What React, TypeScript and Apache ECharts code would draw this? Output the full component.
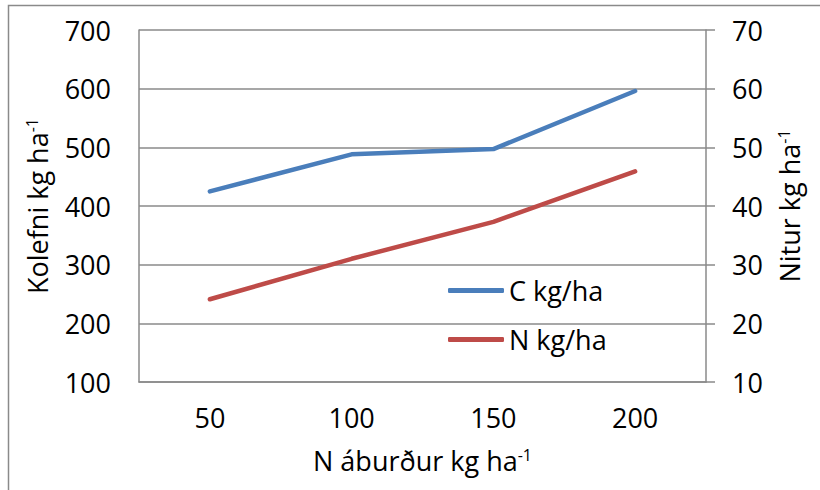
import React, { useEffect, useRef } from "react";
import * as echarts from "echarts";

const categories = ["50", "100", "150", "200"];
const carbon = [425, 488, 497, 596];
const nitrogen = [24.1, 31.0, 37.3, 45.9];
const leftTicks = { min: 100, max: 700, interval: 100 };
const rightTicks = { min: 10, max: 70, interval: 10 };

const FONT = "Open Sans";
const GRAY = "#8a8a8a";
const FS = 27;

export default function App() {
  const ref = useRef<HTMLDivElement>(null);
  useEffect(() => {
    document.body.style.margin = "0";
    const chart = echarts.init(ref.current!, null, { renderer: "svg" });
    const rich = {
      n: { fontSize: FS, fontFamily: FONT, color: "#000" },
      s: { fontSize: 16, fontFamily: FONT, color: "#000", verticalAlign: "top" as const },
    };
    chart.setOption({
      animation: false,
      textStyle: { fontFamily: FONT },
      graphic: [
        {
          type: "rect",
          shape: { x: 8.5, y: 5.5, width: 900, height: 600 },
          style: { fill: "none", stroke: GRAY, lineWidth: 1.5 },
          silent: true,
        },
      ],
      grid: { left: 139, top: 30, right: 114, bottom: 108, containLabel: false },
      legend: {
        orient: "vertical",
        left: 443,
        top: 272,
        icon: "roundRect",
        itemWidth: 56,
        itemHeight: 5,
        itemGap: 22,
        textStyle: { fontSize: FS, fontFamily: FONT, color: "#000" },
        data: ["C kg/ha", "N kg/ha"],
      },
      xAxis: {
        type: "category",
        data: categories,
        boundaryGap: true,
        axisLine: { show: true, lineStyle: { color: GRAY, width: 1.5 } },
        axisTick: { show: false },
        axisLabel: { fontSize: FS, fontFamily: FONT, color: "#000", margin: 22 },
        name: "{n|N áburður kg ha}{s|-1}",
        nameLocation: "middle",
        nameGap: 65,
        nameTextStyle: { rich },
      },
      yAxis: [
        {
          type: "value",
          min: leftTicks.min,
          max: leftTicks.max,
          interval: leftTicks.interval,
          position: "left",
          axisLine: { show: true, lineStyle: { color: GRAY, width: 1.5 } },
          axisTick: { show: false },
          splitLine: { show: true, lineStyle: { color: GRAY, width: 1.5 } },
          axisLabel: { fontSize: FS, fontFamily: FONT, color: "#000", margin: 28 },
          name: "{n|Kolefni kg ha}{s|-1}",
          nameLocation: "middle",
          nameGap: 88,
          nameRotate: 90,
          nameTextStyle: { rich },
        },
        {
          type: "value",
          min: rightTicks.min,
          max: rightTicks.max,
          interval: rightTicks.interval,
          position: "right",
          axisLine: { show: true, lineStyle: { color: GRAY, width: 1.5 } },
          axisTick: { show: true, inside: false, length: 9, lineStyle: { color: GRAY, width: 1.5 } },
          splitLine: { show: false },
          axisLabel: { fontSize: FS, fontFamily: FONT, color: "#000", margin: 26 },
          name: "{n|Nitur kg ha}{s|-1}",
          nameLocation: "middle",
          nameGap: 70,
          nameRotate: 90,
          nameTextStyle: { rich },
        },
      ],
      series: [
        {
          name: "C kg/ha",
          type: "line",
          data: carbon,
          yAxisIndex: 0,
          symbol: "none",
          showSymbol: false,
          lineStyle: { color: "#4A7EBB", width: 4.5, cap: "round", join: "round" },
          itemStyle: { color: "#4A7EBB" },
        },
        {
          name: "N kg/ha",
          type: "line",
          data: nitrogen,
          yAxisIndex: 1,
          symbol: "none",
          showSymbol: false,
          lineStyle: { color: "#BE4B48", width: 4.5, cap: "round", join: "round" },
          itemStyle: { color: "#BE4B48" },
        },
      ],
    });
    return () => chart.dispose();
  }, []);
  return <div ref={ref} style={{ width: 820, height: 490 }} />;
}
